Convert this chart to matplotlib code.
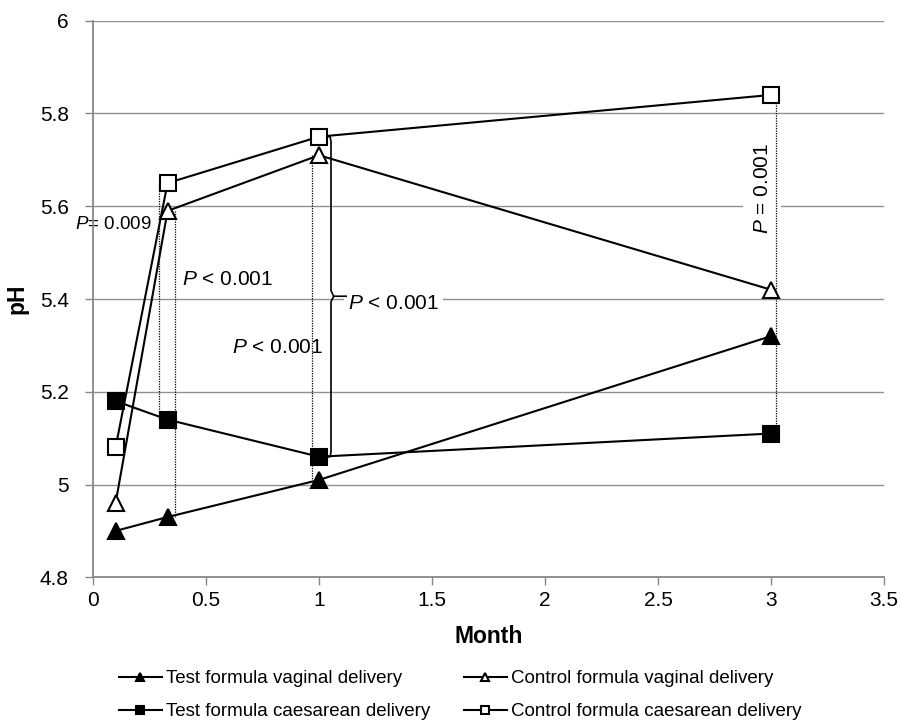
import matplotlib.pyplot as plt

plt.rcParams['font.family'] = ['Liberation Sans', 'DejaVu Sans']
plt.rcParams['mathtext.fontset'] = 'custom'
plt.rcParams['mathtext.rm'] = 'Liberation Sans'
plt.rcParams['mathtext.it'] = 'Liberation Sans:italic'

# Messzeitpunkte (Monate) und pH-Werte
month = [0.1, 0.33, 1, 3]
test_vag = [4.90, 4.93, 5.01, 5.32]
ctrl_vag = [4.96, 5.59, 5.71, 5.42]
test_cae = [5.18, 5.14, 5.06, 5.11]
ctrl_cae = [5.08, 5.65, 5.75, 5.84]

yticks = [4.8, 5, 5.2, 5.4, 5.6, 5.8, 6]
ytick_labels = ['4.8', '5', '5.2', '5.4', '5.6', '5.8', '6']
xticks = [0, 0.5, 1, 1.5, 2, 2.5, 3, 3.5]
xtick_labels = ['0', '0.5', '1', '1.5', '2', '2.5', '3', '3.5']

fig = plt.figure(figsize=(9.02, 7.22), dpi=100)
ax = fig.add_axes([0.1031, 0.2004, 0.877, 0.7709])

kw = dict(color='black', lw=1.5, markersize=12, markeredgewidth=1.5, zorder=4)
h_tv, = ax.plot(month, test_vag, marker='^', markerfacecolor='black',
                label='Test formula vaginal delivery', **kw)
h_cv, = ax.plot(month, ctrl_vag, marker='^', markerfacecolor='white',
                label='Control formula vaginal delivery', **kw)
h_tc, = ax.plot(month, test_cae, marker='s', markerfacecolor='black',
                label='Test formula caesarean delivery', **kw)
h_cc, = ax.plot(month, ctrl_cae, marker='s', markerfacecolor='white',
                label='Control formula caesarean delivery', **kw)

# gepunktete Verbindungslinien
dot = dict(color='black', lw=0.9, ls=(0, (1, 1)), zorder=3)
ax.plot([0.292, 0.292], [ctrl_cae[1], test_cae[1]], **dot)
ax.plot([0.363, 0.363], [ctrl_vag[1], test_vag[1]], **dot)
ax.plot([0.968, 0.968], [ctrl_vag[2], test_vag[2]], **dot)
ax.plot([3.022, 3.022], [ctrl_cae[3], test_cae[3]], **dot)

# Klammer bei Monat 1
bx = 1.053
mid = 5.406
ax.plot([1.035, bx - 0.004, bx, bx, bx + 0.012, 1.12],
        [ctrl_cae[2], ctrl_cae[2], ctrl_cae[2] - 0.01, mid + 0.012, mid, mid],
        color='black', lw=1.2, zorder=3)
ax.plot([1.035, bx - 0.004, bx, bx, bx + 0.012],
        [test_cae[2], test_cae[2], test_cae[2] + 0.01, mid - 0.012, mid],
        color='black', lw=1.2, zorder=3)

box = dict(facecolor='white', edgecolor='none', pad=3)
ax.text(-0.08, 5.56, '$P$= 0.009', fontsize=13.5, va='center', ha='left', zorder=2)
ax.text(0.392, 5.443, '$P$ < 0.001', fontsize=15, va='center', ha='left', zorder=2)
ax.text(0.615, 5.296, '$P$ < 0.001', fontsize=15, va='center', ha='left', zorder=2)
ax.text(1.128, 5.39, '$P$ < 0.001', fontsize=15, va='center', ha='left',
        bbox=box, zorder=2)
ax.text(2.96, 5.639, '$P$ = 0.001', fontsize=15, va='center', ha='center',
        rotation=90, bbox=dict(facecolor='white', edgecolor='none', pad=7), zorder=2)

ax.set_xlim(0, 3.5)
ax.set_ylim(4.8, 6)
ax.set_xticks(xticks)
ax.set_xticklabels(xtick_labels)
ax.set_yticks(yticks)
ax.set_yticklabels(ytick_labels)
ax.tick_params(labelsize=15, color='#888888', length=5.5, width=1)
ax.tick_params(axis='y', pad=12)
ax.tick_params(axis='x', pad=4)
ax.grid(True, axis='y', color='#909090', lw=1)
ax.set_axisbelow(True)
for s in ['top', 'right']:
    ax.spines[s].set_visible(False)
for s in ['left', 'bottom']:
    ax.spines[s].set_color('#888888')
    ax.spines[s].set_linewidth(1.3)

ax.set_xlabel('Month', fontsize=16.5, fontweight='bold')
ax.set_ylabel('pH', fontsize=16.5, fontweight='bold')
ax.xaxis.set_label_coords(0.5, -0.1067)
ax.xaxis.label.set_va('center')
ax.yaxis.set_label_coords(-0.0961, 0.5)
ax.yaxis.label.set_va('center')

fig.legend(handles=[h_tv, h_tc, h_cv, h_cc], loc='center',
           bbox_to_anchor=(0.51, 0.037), ncol=2, frameon=False,
           fontsize=13.5, markerscale=0.5, handlelength=2.3, handletextpad=0.2,
           columnspacing=1.8, labelspacing=0.85, borderpad=0)

fig.savefig('out.png', dpi=100)
